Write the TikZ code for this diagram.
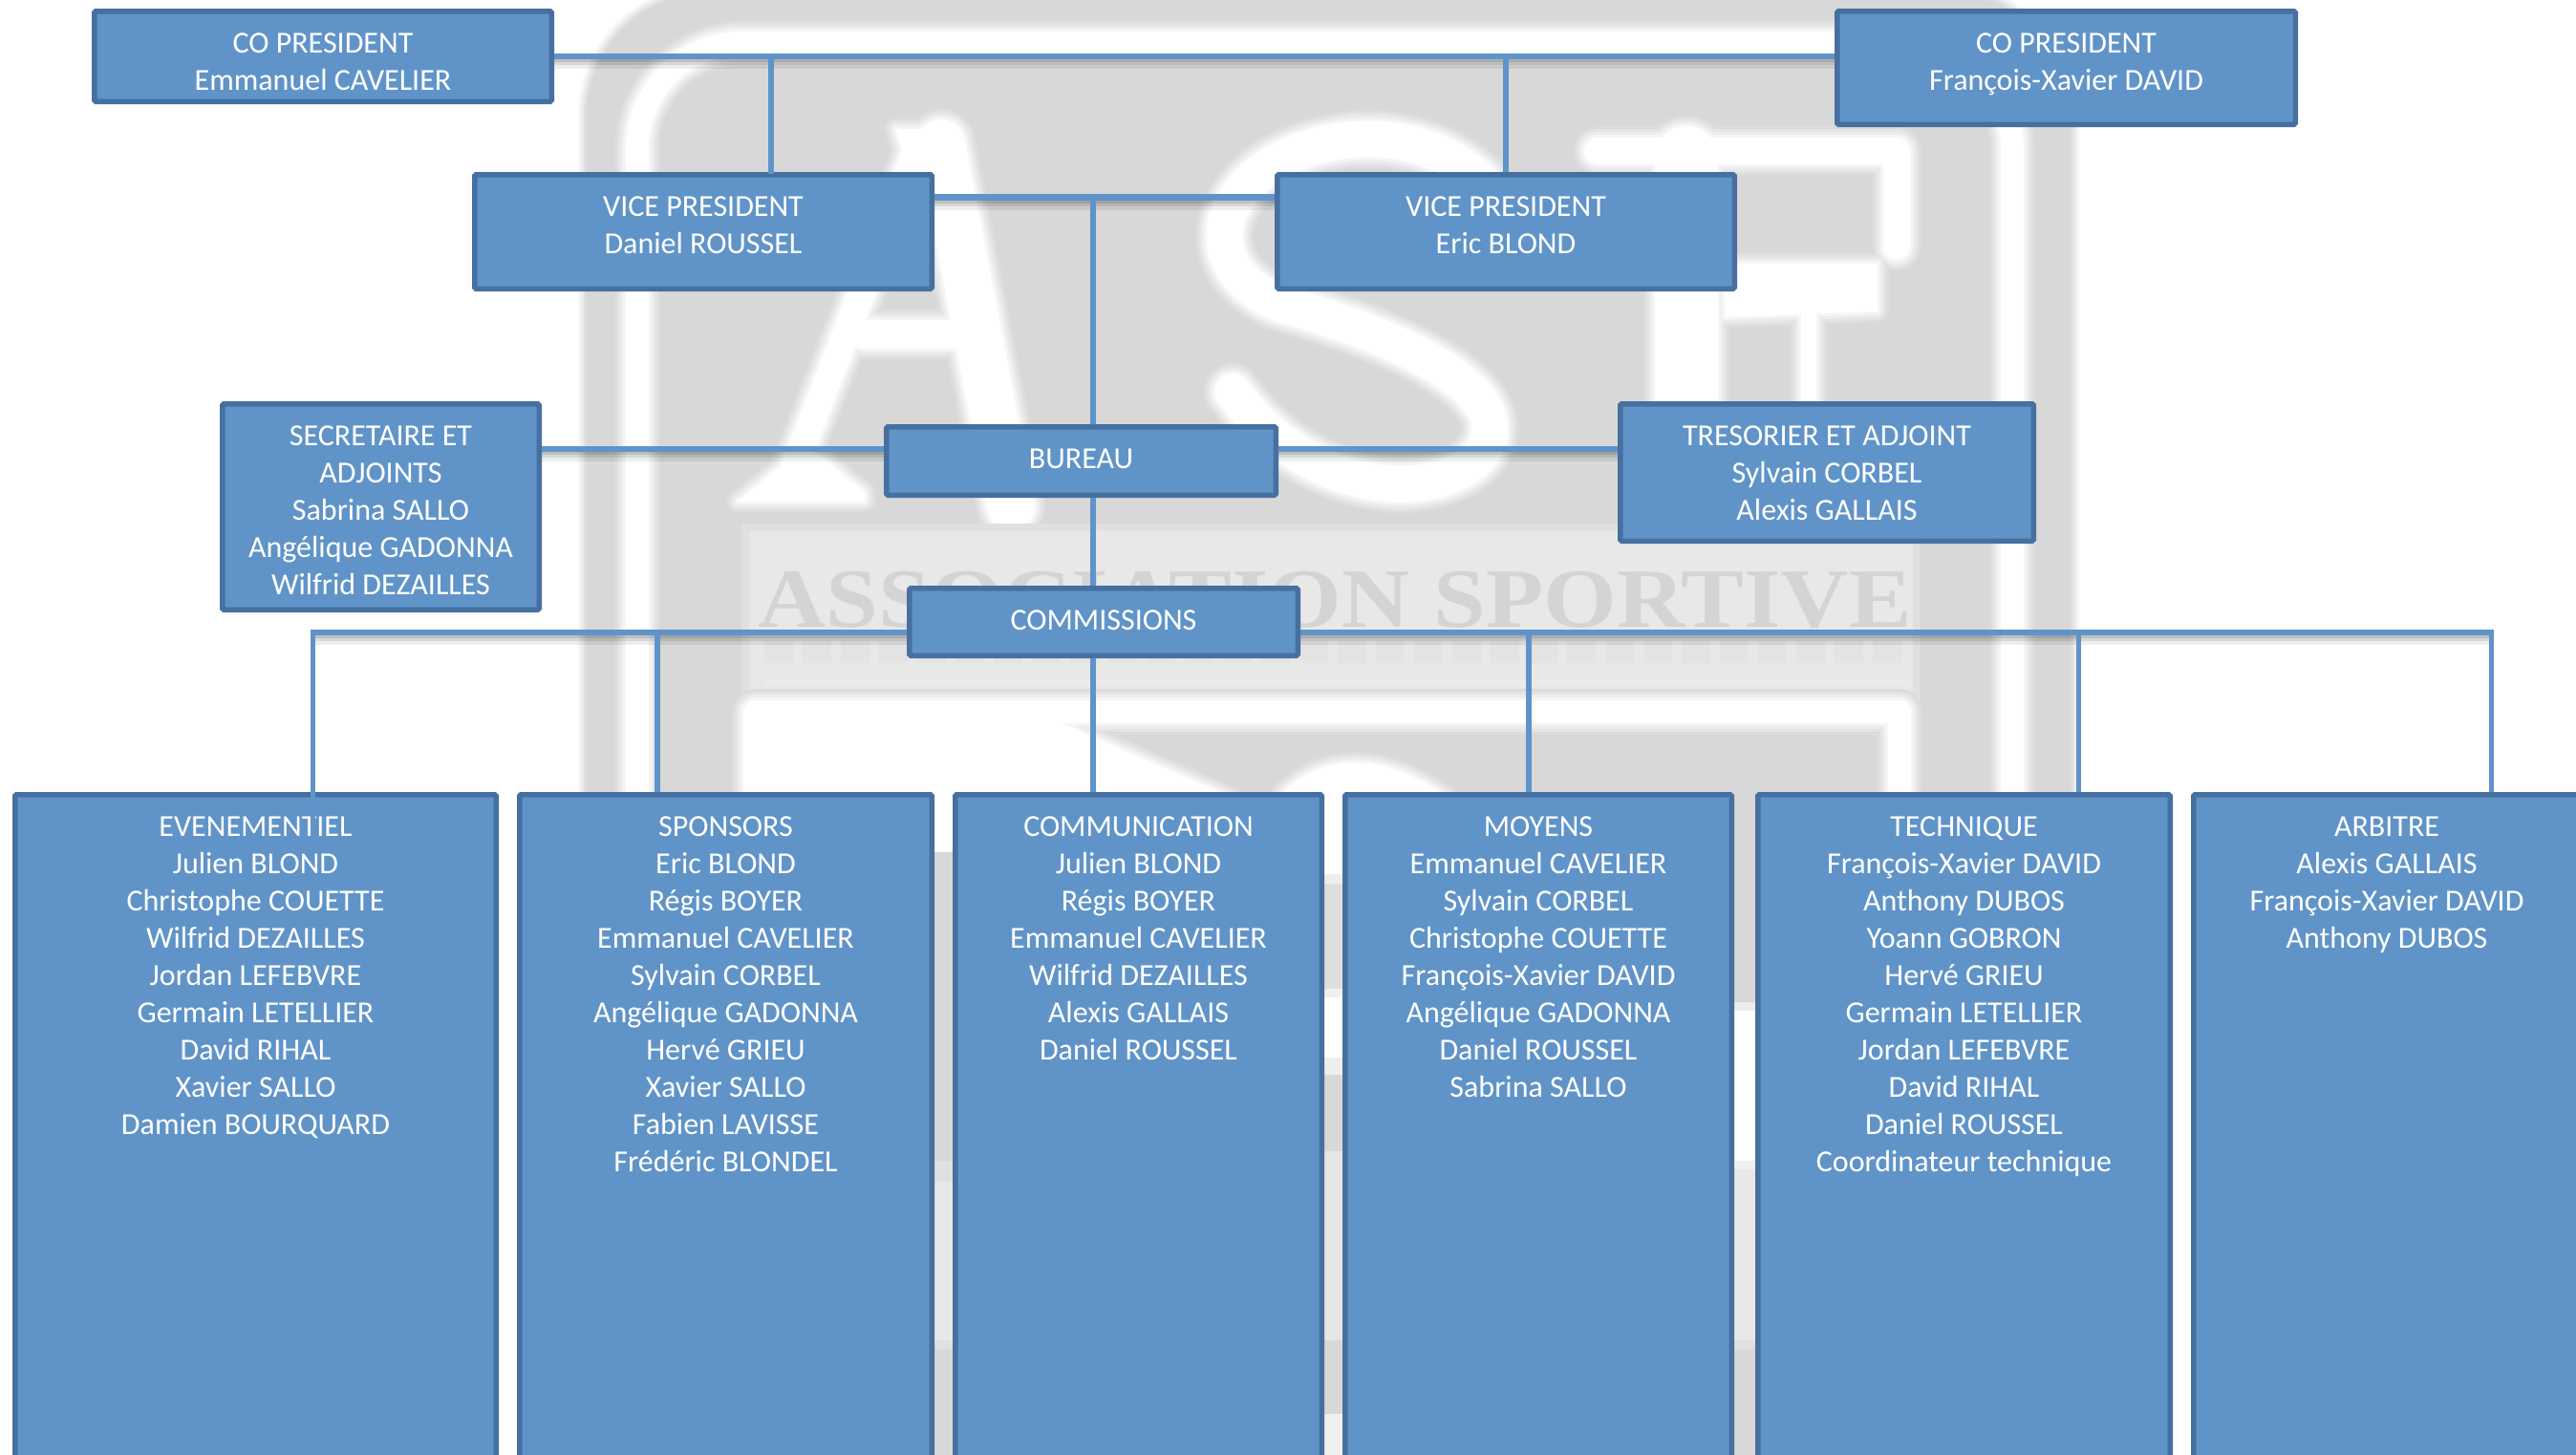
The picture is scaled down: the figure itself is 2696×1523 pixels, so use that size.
\documentclass[tikz,border=0pt]{standalone}
\usepackage{fontspec}
\usepackage{graphicx}
\usetikzlibrary{calc}
\setmainfont{Carlito}
\newfontfamily\wmfont{Liberation Serif}[Scale=1]
\definecolor{fll}{RGB}{96,148,200}
\definecolor{bdr}{RGB}{70,112,160}
\definecolor{lnk}{RGB}{95,148,202}
\definecolor{wmg}{HTML}{D8D8D8}
\definecolor{wmb}{HTML}{E8E8E8}
\definecolor{ws0}{HTML}{FFFFFF}
\definecolor{ws6}{HTML}{F5F5F5}
\definecolor{ws12}{HTML}{ECECEC}
\definecolor{ws18}{HTML}{E4E4E4}
\definecolor{ws24}{HTML}{DCDCDC}
\definecolor{gs0}{HTML}{D8D8D8}
\definecolor{gs6}{HTML}{E0E0E0}
\definecolor{gs12}{HTML}{EBEBEB}
\definecolor{gs18}{HTML}{F6F6F6}
\tikzset{
  orgbox/.style={draw=bdr,fill=fll,line width=5.5pt,inner sep=0pt,rounded corners=1.5pt,
    text=white,font=\fontsize{32}{39}\selectfont},
  link/.style={draw=lnk,line width=5.5pt},
  hlink/.style={draw=lnk,line width=6.5pt},
  shadowa/.style={draw=black,opacity=.07,line width=10pt},
  shadowb/.style={draw=black,opacity=.09,line width=6pt},
  shadowc/.style={draw=black,opacity=.11,line width=3pt},
}
% one soft white stroke of a set drawn inside a \foreach over \d
\newcommand\wsk[2]{\path[draw=ws\d,line cap=round,line join=round,line width=#1pt+\d pt] #2;}
% one soft white fill of a set drawn inside a \foreach over \d
\newcommand\wfl[1]{\path[draw=ws\d,fill=ws\d,line join=round,line width=\d pt+0.01pt] #1;}
% grey soft fill
\newcommand\gfl[1]{\foreach \d in {18,12,6,0}{\path[draw=gs\d,fill=gs\d,line width=\d pt+0.01pt] #1;}}
% organisation box: name, x1, y1, x2, y2, text
\newcommand\obox[6]{%
  \pgfmathsetmacro\bw{#4-#2-5.5}\pgfmathsetmacro\bh{#5-#3-5.5}%
  \node[orgbox,anchor=north west] (#1) at (#2,#3) {\vbox to \bh pt{\hsize=\bw pt\parindent=0pt\centering
     \vskip 13.7pt\rule{0pt}{30pt}#6\par\vss}};}
% horizontal connector with its soft shadow: from, to, reference for y
\newcommand\hconn[3]{%
  \path[shadowa] ($(#1 |- #3)+(0,8)$) -- ($(#2 |- #3)+(0,8)$);
  \path[shadowb] ($(#1 |- #3)+(0,6)$) -- ($(#2 |- #3)+(0,6)$);
  \path[shadowc] ($(#1 |- #3)+(0,4.5)$) -- ($(#2 |- #3)+(0,4.5)$);
  \path[hlink] (#1 |- #3) -- (#2 |- #3);}
\begin{document}
\begin{tikzpicture}[x=1pt,y=-1pt]
\useasboundingbox (0,0) rectangle (2696,1523);
\begin{scope}
\clip (0,0) rectangle (2696,1523);
% ---- watermark ----
\fill[white] (0,0) rectangle (2696,1523);
\gfl{[rounded corners=130pt] (614,-8) -- (614,1600) -- (2167,1600) -- (2167,-8) -- cycle}
\foreach \d in {24,18,12,6,0}{
  % frame stripe
  \wsk{24}{[rounded corners=110pt] (667,1600) -- (667,45) -- (2106,45) -- (2106,1600)}
  % letter A
  \wsk{28}{(962,150) -- (825,505)}
  \wsk{50}{(985,150) -- (1058,530)}
  \wsk{30}{(905,350) -- (1012,350)}
  \wfl{(772,525) -- (905,525) -- (905,515) -- (860,478) -- (838,470) -- cycle}
  \wfl{(937,135) -- (995,135) -- (1008,190) -- (955,190) -- cycle}
  % letter S
  \wsk{38}{(1550,190) .. controls (1490,130) and (1380,135) .. (1320,180) .. controls (1262,225) and (1270,290) .. (1340,318) .. controls (1420,340) and (1530,380) .. (1555,430) .. controls (1590,510) and (1400,560) .. (1290,410)}
  % letter F
  \wsk{28}{(1672,158) -- (1985,158) -- (1985,258)}
  \wsk{66}{(1765,165) -- (1765,560)}
  \wsk{16}{(1893,320) -- (1893,560)}
  \wfl{(1805,276) -- (1965,276) -- (1965,326) -- (1805,332) -- cycle}
}
% band with the title
\path[draw=gs6,fill=wmb,line width=8pt] (780,552) rectangle (2006,733);
\node[font=\wmfont\bfseries\fontsize{88}{90}\selectfont,text=black!17,inner sep=0pt] (wmtitle) at (1397,628) {\scalebox{1.12}[1]{ASSOCIATION SPORTIVE}};
\path[draw=black!11,line width=24pt,dash pattern=on 30pt off 10pt] (800,682) -- (2000,682);
\path[draw=black!8,line width=6pt] (800,715) -- (2000,715);
% lower panel
\foreach \d in {24,18,12,6,0}{
  \wsk{24}{(790,1600) -- (790,745) -- (1988,745) -- (1988,1600)}
  \wfl{(790,745) -- (1092,745) -- (1111,757) -- (1290,835) -- (1290,1600) -- (790,1600) -- cycle}
  \wfl{(1335,838) .. controls (1380,785) and (1450,785) .. (1520,838) -- cycle}
}
% what shows between the commission boxes
\foreach \xa/\xb/\ya/\yb/\c in {
  970/1005/892/1215/D8D8D8, 970/1005/1215/1237/E0E0E0, 970/1005/1237/1403/E8E8E8, 970/1005/1403/1412/E0E0E0, 970/1005/1412/1540/D8D8D8,
  1378/1412/820/915/FFFFFF, 1378/1412/915/925/EEEEEE, 1378/1412/925/1035/DEDEDE, 1378/1412/1035/1044/F0F0F0, 1378/1412/1044/1107/FFFFFF, 1378/1412/1107/1125/EEEEEE, 1378/1412/1125/1205/D8D8D8, 1378/1412/1205/1403/E6E6E6, 1378/1412/1403/1480/D8D8D8, 1378/1412/1480/1540/F0F0F0,
  1810/1842/820/1049/D8D8D8, 1810/1842/1049/1058/ECECEC, 1810/1842/1058/1215/FFFFFF, 1810/1842/1215/1224/F0F0F0, 1810/1842/1224/1403/E8E8E8, 1810/1842/1403/1412/E0E0E0, 1810/1842/1412/1540/D8D8D8}{
  \definecolor{stripc}{HTML}{\c}
  \fill[stripc] (\xa,\ya) rectangle (\xb,\yb);
}
% ---- organisation ----
\obox{co1}{96}{9}{580}{109}{CO PRESIDENT\\Emmanuel CAVELIER}
\obox{co2}{1920}{9}{2405}{133}{CO PRESIDENT\\François-Xavier DAVID}
\obox{vp1}{494}{180}{978}{305}{VICE PRESIDENT\\Daniel ROUSSEL}
\obox{vp2}{1334}{180}{1818}{305}{VICE PRESIDENT\\Eric BLOND}
\obox{sec}{230}{420}{567}{641}{SECRETAIRE ET\\ADJOINTS\\Sabrina SALLO\\Angélique GADONNA\\Wilfrid DEZAILLES}
\obox{bur}{925}{444}{1338}{521}{BUREAU}
\obox{tre}{1693}{420}{2131}{569}{TRESORIER ET ADJOINT\\Sylvain CORBEL\\Alexis GALLAIS}
\obox{com}{949}{613}{1361}{689}{COMMISSIONS}
\obox{b1}{13}{829}{522}{1545}{EVENEMENTIEL\\Julien BLOND\\Christophe COUETTE\\Wilfrid DEZAILLES\\Jordan LEFEBVRE\\Germain LETELLIER\\David RIHAL\\Xavier SALLO\\Damien BOURQUARD}
\obox{b2}{541}{829}{978}{1545}{SPONSORS\\Eric BLOND\\Régis BOYER\\Emmanuel CAVELIER\\Sylvain CORBEL\\Angélique GADONNA\\Hervé GRIEU\\Xavier SALLO\\Fabien LAVISSE\\Frédéric BLONDEL}
\obox{b3}{997}{829}{1386}{1545}{COMMUNICATION\\Julien BLOND\\Régis BOYER\\Emmanuel CAVELIER\\Wilfrid DEZAILLES\\Alexis GALLAIS\\Daniel ROUSSEL}
\obox{b4}{1405}{829}{1815}{1545}{MOYENS\\Emmanuel CAVELIER\\Sylvain CORBEL\\Christophe COUETTE\\François-Xavier DAVID\\Angélique GADONNA\\Daniel ROUSSEL\\Sabrina SALLO}
\obox{b5}{1837}{829}{2274}{1545}{TECHNIQUE\\François-Xavier DAVID\\Anthony DUBOS\\Yoann GOBRON\\Hervé GRIEU\\Germain LETELLIER\\Jordan LEFEBVRE\\David RIHAL\\Daniel ROUSSEL\\Coordinateur technique}
\obox{b6}{2293}{829}{2703}{1545}{ARBITRE\\Alexis GALLAIS\\François-Xavier DAVID\\Anthony DUBOS}
% ---- connectors ----
\coordinate (ja) at (807,59);
\coordinate (jb) at (1576,59);
\coordinate (jc) at (1144,206.5);
\coordinate (jd) at (1144,470);
\coordinate (c1) at (327.6,662);
\coordinate (c2) at (688,662);
\coordinate (c3) at (1144,662);
\coordinate (c4) at (1600,662);
\coordinate (c5) at (2175.5,662);
\coordinate (c6) at (2607.7,662);
\coordinate (e1) at (327.6,857);
\hconn{co1.east}{co2.west}{ja}
\path[link] (ja) -- ($(ja |- vp1.north)+(0,2)$);
\path[link] (jb) -- (jb |- vp2.north);
\hconn{vp1.east}{vp2.west}{jc}
\path[link] (jc) -- (jc |- bur.north);
\hconn{sec.east}{bur.west}{jd}
\hconn{bur.east}{tre.west}{jd}
\path[link] (jc |- bur.south) -- (jc |- com.north);
\hconn{com.west}{c1}{c1}
\hconn{com.east}{c6}{c6}
\path[link] ($(c1)+(0,-3)$) -- (e1);
\path[link] (c2) -- (c2 |- b2.north);
\path[link] (jc |- com.south) -- (jc |- b3.north);
\path[link] (c4) -- (c4 |- b4.north);
\path[link] (c5) -- (c5 |- b5.north);
\path[link] ($(c6)+(0,-3)$) -- (c6 |- b6.north);
\end{scope}
\end{tikzpicture}
\end{document}
